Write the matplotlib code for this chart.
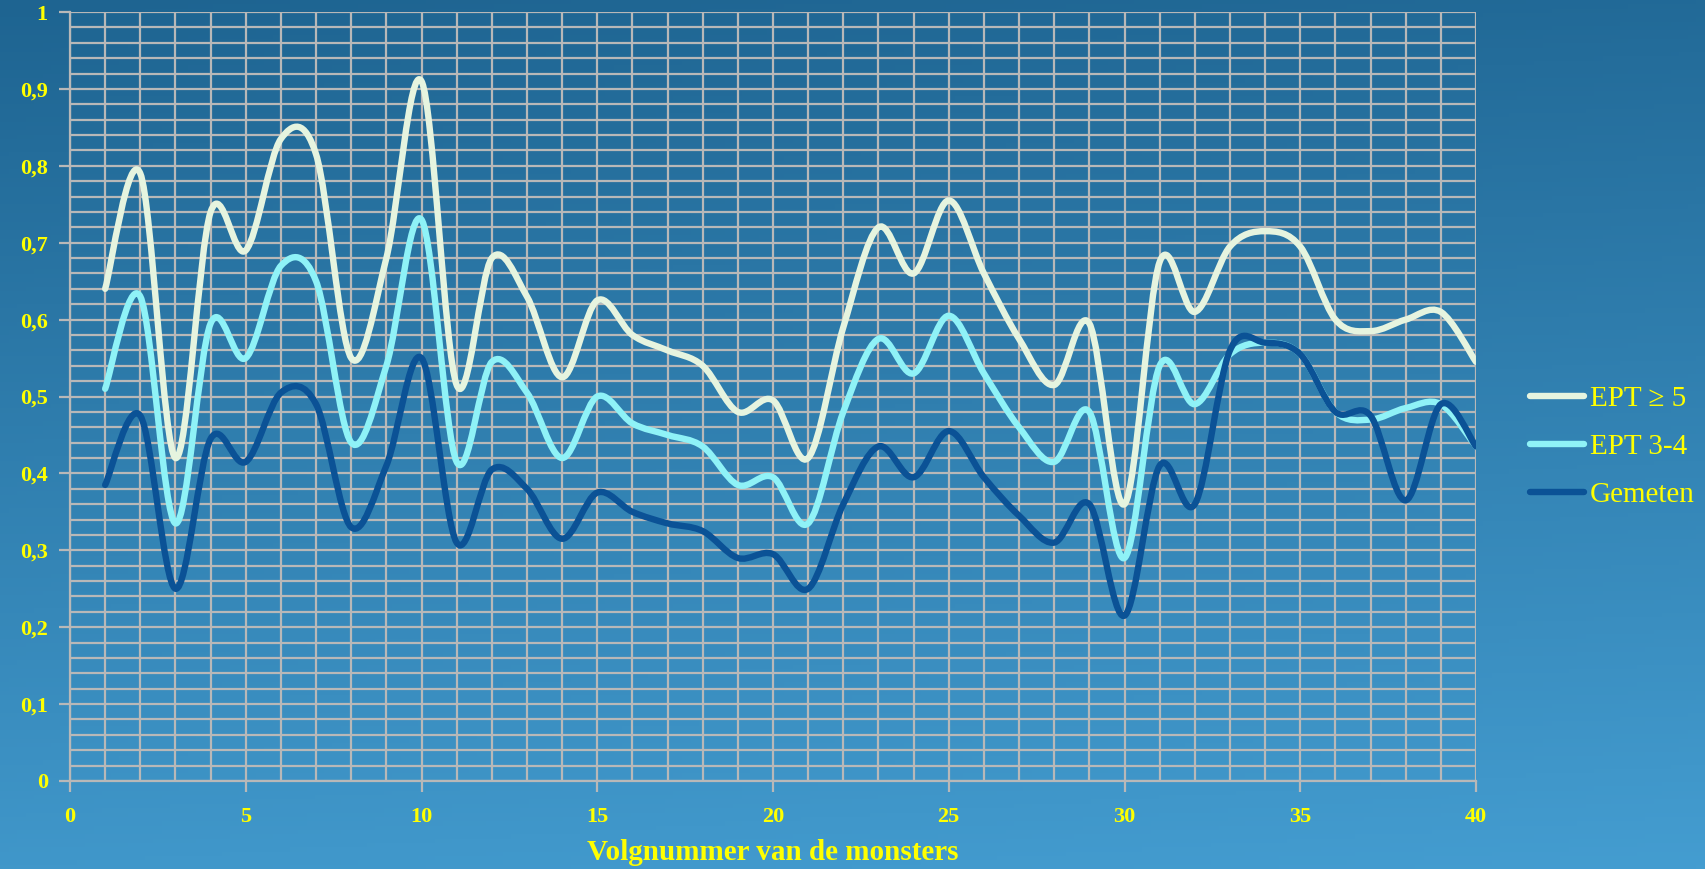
import numpy as np
import matplotlib
matplotlib.use('Agg')
import matplotlib.pyplot as plt
from matplotlib.path import Path
from matplotlib.patches import PathPatch
from matplotlib.lines import Line2D

samples = list(range(1, 41))
ept5 = [0.64, 0.79, 0.42, 0.74, 0.69, 0.835, 0.815, 0.55, 0.68, 0.91,
        0.515, 0.68, 0.63, 0.525, 0.625, 0.58, 0.56, 0.54, 0.48, 0.495,
        0.42, 0.59, 0.72, 0.66, 0.755, 0.66, 0.575, 0.515, 0.595, 0.36,
        0.675, 0.61, 0.695, 0.715, 0.695, 0.60, 0.585, 0.60, 0.61, 0.545]
ept34 = [0.51, 0.63, 0.335, 0.595, 0.55, 0.67, 0.65, 0.44, 0.54, 0.73,
         0.415, 0.545, 0.505, 0.42, 0.50, 0.465, 0.45, 0.435, 0.385, 0.395,
         0.335, 0.48, 0.575, 0.53, 0.605, 0.53, 0.46, 0.415, 0.48, 0.29,
         0.54, 0.49, 0.555, 0.57, 0.555, 0.48, 0.47, 0.485, 0.49, 0.435]
gemeten = [0.385, 0.475, 0.25, 0.445, 0.415, 0.505, 0.49, 0.33, 0.41, 0.55,
           0.31, 0.405, 0.38, 0.315, 0.375, 0.35, 0.335, 0.325, 0.29, 0.295,
           0.25, 0.36, 0.435, 0.395, 0.455, 0.395, 0.345, 0.31, 0.36, 0.215,
           0.41, 0.36, 0.56, 0.57, 0.555, 0.48, 0.475, 0.365, 0.49, 0.435]
labels = ['EPT \u2265 5', 'EPT 3-4', 'Gemeten']
colors = ['#e6f4df', '#8ff2f7', '#0b5296']

yellow = '#ffff00'
serif = ['Liberation Serif', 'DejaVu Serif']


def smooth_path(x, y):
    # excel-like smoothed line: bezier segments through the points
    pts = np.column_stack([x, y]).astype(float)
    n = len(pts)
    verts = [pts[0]]
    codes = [Path.MOVETO]
    for i in range(n - 1):
        p0 = pts[i - 1] if i > 0 else pts[i]
        p1 = pts[i]
        p2 = pts[i + 1]
        p3 = pts[i + 2] if i + 2 < n else pts[i + 1]
        c1 = p1 + (p2 - p0) / 6.0
        c2 = p2 - (p3 - p1) / 6.0
        verts += [c1, c2, p2]
        codes += [Path.CURVE4] * 3
    return Path(verts, codes)


fig = plt.figure(figsize=(17.05, 8.69), dpi=100)

# background gradient
bg = fig.add_axes([0, 0, 1, 1])
grad_y = np.linspace(0, 1, 200)[:, None]
grad_x = np.linspace(0, 1, 200)[None, :]
t = np.clip(0.85 * grad_y + 0.1 * grad_x, 0, 1)
top = np.array([30, 100, 145]) / 255.0
bot = np.array([70, 160, 212]) / 255.0
img = top[None, None, :] * (1 - t[..., None]) + bot[None, None, :] * t[..., None]
bg.imshow(img, aspect='auto', extent=[0, 1, 0, 1], origin='upper')
bg.axis('off')

ax = fig.add_axes([70 / 1705, 1 - 781 / 869, (1476 - 70) / 1705, (781 - 12) / 869])
ax.patch.set_alpha(0)
ax.set_xlim(0, 40)
ax.set_ylim(0, 1)

gridc = '#b8b8b8'
for xv in range(0, 41):
    ax.axvline(xv, color=gridc, lw=1.6, zorder=1)
for yv in np.arange(0, 1.001, 0.02):
    ax.axhline(yv, color=gridc, lw=1.6, zorder=1)

for vals, c in zip([ept5, ept34, gemeten], colors):
    patch = PathPatch(smooth_path(samples, vals), facecolor='none', edgecolor=c,
                      lw=4.6, capstyle='round', joinstyle='round', zorder=3)
    ax.add_patch(patch)

for s in ['top', 'right']:
    ax.spines[s].set_visible(False)
for s in ['left', 'bottom']:
    ax.spines[s].set_color(gridc)
    ax.spines[s].set_linewidth(1.6)

ax.set_xticks([0, 5, 10, 15, 20, 25, 30, 35, 40])
ax.set_xticklabels(['0', '5', '10', '15', '20', '25', '30', '35', '40'])
ax.set_yticks(np.arange(0, 1.01, 0.1))
ax.set_yticklabels(['0', '0,1', '0,2', '0,3', '0,4', '0,5', '0,6', '0,7', '0,8', '0,9', '1'])
ax.tick_params(axis='both', colors=gridc, labelcolor=yellow, length=8, width=1.6)
ax.tick_params(axis='x', pad=11)
ax.tick_params(axis='y', pad=8)
for lab in ax.get_xticklabels() + ax.get_yticklabels():
    lab.set_fontfamily(serif)
    lab.set_fontsize(16)
    lab.set_fontweight('bold')

ax.set_xlabel('Volgnummer van de monsters', color=yellow, fontsize=21,
              fontweight='bold', family=serif, va='center')
ax.xaxis.set_label_coords(0.5, -(852 - 781) / 769)

handles = [Line2D([], [], color=c, lw=4.6, solid_capstyle='round') for c in colors]
fig.legend(handles, labels, loc='center left', bbox_to_anchor=(1530 / 1705, 1 - 447 / 869),
           frameon=False, prop={'family': serif, 'size': 21}, labelcolor=yellow,
           handlelength=1.85, handletextpad=0.2, labelspacing=0.75, borderpad=0,
           borderaxespad=0)

fig.savefig('out.png', dpi=100)
